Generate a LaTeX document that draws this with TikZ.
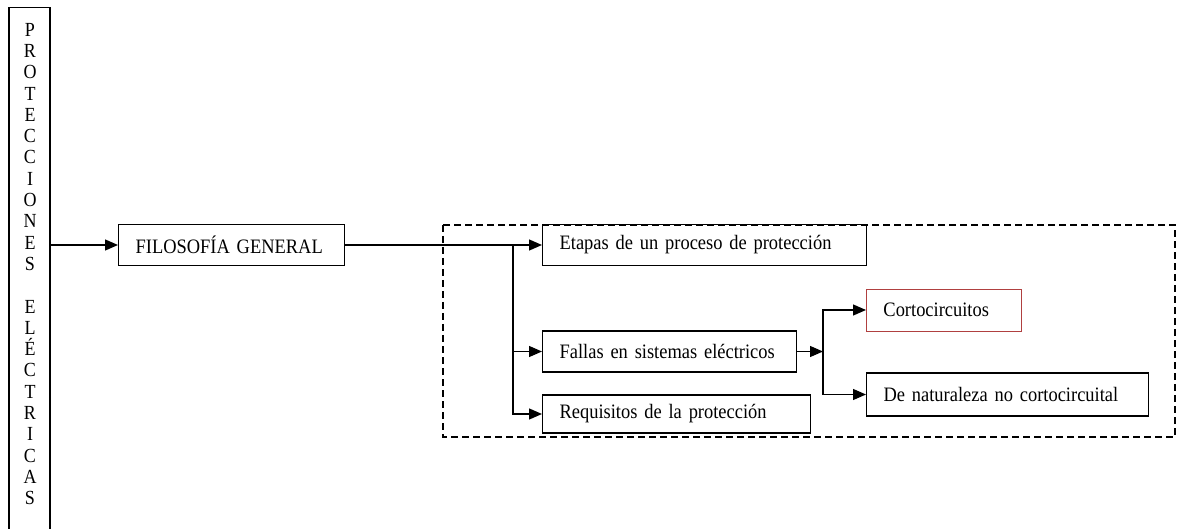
\documentclass[tikz,border=0pt]{standalone}
\usepackage{fontspec}
\setmainfont{Liberation Serif}[FakeStretch=0.9]
\usetikzlibrary{positioning,arrows.meta}
\tikzset{caja/.style={draw,line width=1.2pt,minimum height=41pt,inner xsep=17pt,
                      anchor=west,align=left,font=\fontsize{20.5}{22}\selectfont},
         rcaja/.style={caja,draw={rgb,255:red,176;green,64;blue,64},line width=0.9pt},
         flecha/.style={line width=1.3pt,-{Triangle[length=13pt,width=11pt]}},
         marco/.style={draw,line width=1.2pt,dash pattern=on 7pt off 4pt}
         }

\begin{document}
\begin{tikzpicture}[x=1pt,y=-1pt]% mapa de protecciones
        \useasboundingbox (0,0) rectangle (1178,529);
        \clip (0,0) rectangle (1178,529);
        \node[draw,line width=1.2pt,minimum width=41pt,minimum height=545pt,anchor=north] (prot) at (29.5,7) {};
        \node[align=center,font=\fontsize{20}{21.3}\selectfont] (letras) at (30,264)
             {P\\R\\O\\T\\E\\C\\C\\I\\O\\N\\E\\S\\[21.3pt]E\\L\\É\\C\\T\\R\\I\\C\\A\\S};
        \node[caja,text width=192pt] (filo) at (118,245) {FILOSOFÍA GENERAL};
        \node[caja,text width=290pt] (etapas) at (542,245) {Etapas de un proceso de protección};
        \node[caja,text width=220pt] (fallas) at (542,351.5) {Fallas en sistemas eléctricos};
        \node[caja,text width=234pt,minimum height=38pt] (requisitos) at (542,414) {Requisitos de la protección};
        \node[rcaja,text width=121pt,minimum height=42pt] (corto) at (866,310) {Cortocircuitos};
        \node[caja,text width=248pt,minimum height=43pt] (natur) at (866,394.5) {De naturaleza no cortocircuital};
        \draw[marco] (443,225) rectangle (1175,437);
        \coordinate (rama1) at (513,245);
        \coordinate (rama2) at (823,351.5);
        \draw[flecha] (prot.east |- filo.west) to (filo.west);
        \draw[flecha] (filo.east) to (etapas.west);
        \draw[flecha] (rama1) |- (fallas.west);
        \draw[flecha] (rama1) |- (requisitos.west);
        \draw[flecha] (fallas.east) to (rama2);
        \draw[flecha] (rama2) |- (corto.west);
        \draw[flecha] (rama2) |- (natur.west);
\end{tikzpicture}
\end{document}
